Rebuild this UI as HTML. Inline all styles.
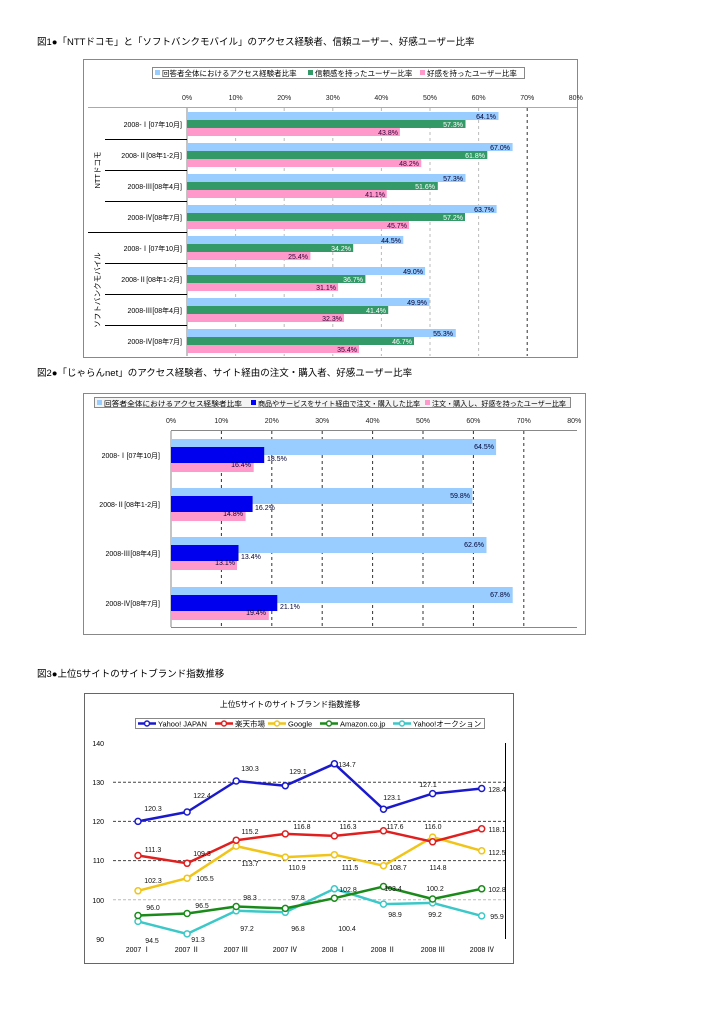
<!DOCTYPE html>
<html><head><meta charset="utf-8"><style>
body{margin:0;background:#fff}
svg{display:block;font-family:"Liberation Sans","Noto Sans CJK JP",sans-serif}
</style></head><body>
<svg width="724" height="1024" viewBox="0 0 724 1024" xmlns="http://www.w3.org/2000/svg">
<g font-size="9.5" fill="#000">
<text x="37" y="45">図1●「NTTドコモ」と「ソフトバンクモバイル」のアクセス経験者、信頼ユーザー、好感ユーザー比率</text>
<text x="37" y="376">図2●「じゃらんnet」のアクセス経験者、サイト経由の注文・購入者、好感ユーザー比率</text>
<text x="37" y="677">図3●上位5サイトのサイトブランド指数推移</text>
</g>

<!-- Chart 1 -->
<rect x="83.5" y="59.5" width="494" height="298" fill="#fff" stroke="#888"/>
<rect x="152.5" y="67.5" width="372" height="11" fill="#fff" stroke="#888"/>
<g font-size="7.5">
<rect x="155" y="70" width="5" height="5" fill="#99ccff"/><text x="162" y="76">回答者全体におけるアクセス経験者比率</text>
<rect x="308" y="70" width="5" height="5" fill="#339966"/><text x="315" y="76">信頼感を持ったユーザー比率</text>
<rect x="420" y="70" width="5" height="5" fill="#ff99cc"/><text x="427" y="76">好感を持ったユーザー比率</text>
</g>
<g font-size="7" text-anchor="middle" fill="#222">
<text x="187" y="100">0%</text><text x="235.6" y="100">10%</text><text x="284.2" y="100">20%</text><text x="332.8" y="100">30%</text><text x="381.4" y="100">40%</text><text x="430" y="100">50%</text><text x="478.6" y="100">60%</text><text x="527.2" y="100">70%</text><text x="575.8" y="100">80%</text>
</g>
<line x1="88" y1="107.5" x2="577" y2="107.5" stroke="#aaa"/>
<g stroke="#bbb" stroke-dasharray="3,3">
<line x1="235.6" y1="108" x2="235.6" y2="356"/><line x1="284.2" y1="108" x2="284.2" y2="356"/><line x1="332.8" y1="108" x2="332.8" y2="356"/><line x1="381.4" y1="108" x2="381.4" y2="356"/><line x1="430" y1="108" x2="430" y2="356"/><line x1="478.6" y1="108" x2="478.6" y2="356"/>
</g>
<line x1="527.2" y1="108" x2="527.2" y2="356" stroke="#333" stroke-dasharray="3,3"/>
<line x1="187" y1="108" x2="187" y2="356" stroke="#888"/>
<g>
<rect x="187" y="112" width="311.5" height="8" fill="#99ccff"/><rect x="187" y="120" width="278.5" height="8" fill="#339966"/><rect x="187" y="128" width="212.9" height="8" fill="#ff99cc"/>
<rect x="187" y="143" width="325.6" height="8" fill="#99ccff"/><rect x="187" y="151" width="300.3" height="8" fill="#339966"/><rect x="187" y="159" width="234.3" height="8" fill="#ff99cc"/>
<rect x="187" y="174" width="278.5" height="8" fill="#99ccff"/><rect x="187" y="182" width="250.8" height="8" fill="#339966"/><rect x="187" y="190" width="199.7" height="8" fill="#ff99cc"/>
<rect x="187" y="205" width="309.6" height="8" fill="#99ccff"/><rect x="187" y="213" width="278" height="8" fill="#339966"/><rect x="187" y="221" width="222.1" height="8" fill="#ff99cc"/>
<rect x="187" y="236" width="216.3" height="8" fill="#99ccff"/><rect x="187" y="244" width="166.2" height="8" fill="#339966"/><rect x="187" y="252" width="123.4" height="8" fill="#ff99cc"/>
<rect x="187" y="267" width="238.1" height="8" fill="#99ccff"/><rect x="187" y="275" width="178.4" height="8" fill="#339966"/><rect x="187" y="283" width="151.1" height="8" fill="#ff99cc"/>
<rect x="187" y="298" width="242.5" height="8" fill="#99ccff"/><rect x="187" y="306" width="201.2" height="8" fill="#339966"/><rect x="187" y="314" width="157" height="8" fill="#ff99cc"/>
<rect x="187" y="329" width="268.8" height="8" fill="#99ccff"/><rect x="187" y="337" width="227" height="8" fill="#339966"/><rect x="187" y="345" width="172" height="8" fill="#ff99cc"/>
</g>
<g font-size="7" text-anchor="end">
<g fill="#003">
<text x="496" y="119">64.1%</text><text x="510" y="150">67.0%</text><text x="463" y="181">57.3%</text><text x="494" y="212">63.7%</text>
<text x="401" y="243">44.5%</text><text x="423" y="274">49.0%</text><text x="427" y="305">49.9%</text><text x="453" y="336">55.3%</text>
</g>
<g fill="#fff">
<text x="463" y="127">57.3%</text><text x="485" y="158">61.8%</text><text x="435" y="189">51.6%</text><text x="463" y="220">57.2%</text>
<text x="351" y="251">34.2%</text><text x="363" y="282">36.7%</text><text x="386" y="313">41.4%</text><text x="412" y="344">46.7%</text>
</g>
<g fill="#303">
<text x="398" y="135">43.8%</text><text x="419" y="166">48.2%</text><text x="385" y="197">41.1%</text><text x="407" y="228">45.7%</text>
<text x="308" y="259">25.4%</text><text x="336" y="290">31.1%</text><text x="342" y="321">32.3%</text><text x="357" y="352">35.4%</text>
</g>
</g>
<g stroke="#000">
<line x1="105" y1="139.5" x2="187" y2="139.5"/><line x1="105" y1="170.5" x2="187" y2="170.5"/><line x1="105" y1="201.5" x2="187" y2="201.5"/>
<line x1="88" y1="232.5" x2="187" y2="232.5"/>
<line x1="105" y1="263.5" x2="187" y2="263.5"/><line x1="105" y1="294.5" x2="187" y2="294.5"/><line x1="105" y1="325.5" x2="187" y2="325.5"/>
</g>
<g font-size="7" text-anchor="end">
<text x="182" y="127">2008-Ⅰ[07年10月]</text><text x="182" y="158">2008-Ⅱ[08年1-2月]</text><text x="182" y="189">2008-Ⅲ[08年4月]</text><text x="182" y="220">2008-Ⅳ[08年7月]</text>
<text x="182" y="251">2008-Ⅰ[07年10月]</text><text x="182" y="282">2008-Ⅱ[08年1-2月]</text><text x="182" y="313">2008-Ⅲ[08年4月]</text><text x="182" y="344">2008-Ⅳ[08年7月]</text>
</g>
<g font-size="7.5" text-anchor="middle">
<text transform="translate(100,170) rotate(-90)">NTTドコモ</text>
<text transform="translate(100,290) rotate(-90)">ソフトバンクモバイル</text>
</g>

<!-- Chart 2 -->
<rect x="83.5" y="393.5" width="502" height="241" fill="#fff" stroke="#888"/>
<rect x="94.5" y="397.5" width="476" height="10" fill="#f4f4f4" stroke="#888"/>
<g font-size="7">
<rect x="97" y="400" width="5" height="5" fill="#99ccff"/><text x="104" y="406" textLength="138" lengthAdjust="spacingAndGlyphs">回答者全体におけるアクセス経験者比率</text>
<rect x="251" y="400" width="5" height="5" fill="#0000ff"/><text x="258" y="406" textLength="162" lengthAdjust="spacingAndGlyphs">商品やサービスをサイト経由で注文・購入した比率</text>
<rect x="425" y="400" width="5" height="5" fill="#ff99cc"/><text x="432" y="406" textLength="134" lengthAdjust="spacingAndGlyphs">注文・購入し、好感を持ったユーザー比率</text>
</g>
<g font-size="7" text-anchor="middle" fill="#222">
<text x="171" y="423">0%</text><text x="221.4" y="423">10%</text><text x="271.8" y="423">20%</text><text x="322.2" y="423">30%</text><text x="372.6" y="423">40%</text><text x="423" y="423">50%</text><text x="473.4" y="423">60%</text><text x="523.8" y="423">70%</text><text x="574.2" y="423">80%</text>
</g>
<line x1="171" y1="430.5" x2="577" y2="430.5" stroke="#888"/>
<g stroke="#333" stroke-dasharray="3,3">
<line x1="221.4" y1="431" x2="221.4" y2="627"/><line x1="271.8" y1="431" x2="271.8" y2="627"/><line x1="322.2" y1="431" x2="322.2" y2="627"/><line x1="372.6" y1="431" x2="372.6" y2="627"/><line x1="423" y1="431" x2="423" y2="627"/><line x1="473.4" y1="431" x2="473.4" y2="627"/><line x1="523.8" y1="431" x2="523.8" y2="627"/>
</g>
<line x1="171" y1="431" x2="171" y2="627" stroke="#888"/>
<line x1="171" y1="627.5" x2="577" y2="627.5" stroke="#888"/>
<g>
<rect x="171" y="439" width="325.1" height="16" fill="#99ccff"/><rect x="171" y="455" width="82.7" height="17" fill="#ff99cc"/><rect x="171" y="447" width="93.2" height="16" fill="#0000ee"/>
<rect x="171" y="488" width="301.4" height="16" fill="#99ccff"/><rect x="171" y="504" width="74.6" height="17" fill="#ff99cc"/><rect x="171" y="496" width="81.6" height="16" fill="#0000ee"/>
<rect x="171" y="537" width="315.5" height="16" fill="#99ccff"/><rect x="171" y="553" width="66" height="17" fill="#ff99cc"/><rect x="171" y="545" width="67.5" height="16" fill="#0000ee"/>
<rect x="171" y="587" width="341.7" height="16" fill="#99ccff"/><rect x="171" y="603" width="97.8" height="17" fill="#ff99cc"/><rect x="171" y="595" width="106.3" height="16" fill="#0000ee"/>
</g>
<g font-size="7" fill="#003">
<g text-anchor="end"><text x="494" y="449">64.5%</text><text x="470" y="498">59.8%</text><text x="484" y="547">62.6%</text><text x="510" y="597">67.8%</text>
<text x="251" y="467">16.4%</text><text x="243" y="516">14.8%</text><text x="235" y="565">13.1%</text><text x="266" y="615">19.4%</text></g>
<text x="267" y="461">18.5%</text><text x="255" y="510">16.2%</text><text x="241" y="559">13.4%</text><text x="280" y="609">21.1%</text>
</g>
<g font-size="7" text-anchor="end">
<text x="160" y="458">2008-Ⅰ[07年10月]</text><text x="160" y="507">2008-Ⅱ[08年1-2月]</text><text x="160" y="556">2008-Ⅲ[08年4月]</text><text x="160" y="606">2008-Ⅳ[08年7月]</text>
</g>

<!-- Chart 3 -->
<rect x="84.5" y="693.5" width="429" height="270" fill="#fff" stroke="#666"/>
<text x="290" y="707" font-size="8" text-anchor="middle">上位5サイトのサイトブランド指数推移</text>
<rect x="135.5" y="718.5" width="349" height="10" fill="#fff" stroke="#888"/>
<g font-size="7.5" stroke-width="2.5" fill="#fff">
<line x1="138" y1="723.5" x2="156" y2="723.5" stroke="#1a1acc"/><circle cx="147" cy="723.5" r="2.5" stroke="#1a1acc" stroke-width="1.5"/><text x="158" y="726.5" fill="#000" stroke="none">Yahoo! JAPAN</text>
<line x1="215" y1="723.5" x2="233" y2="723.5" stroke="#e01f1f"/><circle cx="224" cy="723.5" r="2.5" stroke="#e01f1f" stroke-width="1.5"/><text x="235" y="726.5" fill="#000" stroke="none">楽天市場</text>
<line x1="268" y1="723.5" x2="286" y2="723.5" stroke="#f0c418"/><circle cx="277" cy="723.5" r="2.5" stroke="#f0c418" stroke-width="1.5"/><text x="288" y="726.5" fill="#000" stroke="none">Google</text>
<line x1="320" y1="723.5" x2="338" y2="723.5" stroke="#1a8a1a"/><circle cx="329" cy="723.5" r="2.5" stroke="#1a8a1a" stroke-width="1.5"/><text x="340" y="726.5" fill="#000" stroke="none">Amazon.co.jp</text>
<line x1="393" y1="723.5" x2="411" y2="723.5" stroke="#3cc8c8"/><circle cx="402" cy="723.5" r="2.5" stroke="#3cc8c8" stroke-width="1.5"/><text x="413" y="726.5" fill="#000" stroke="none">Yahoo!オークション</text>
</g>
<g font-size="7" text-anchor="end">
<text x="104" y="746">140</text><text x="104" y="785">130</text><text x="104" y="824">120</text><text x="104" y="863">110</text><text x="104" y="903">100</text><text x="104" y="942">90</text>
</g>
<g stroke="#444" stroke-dasharray="3,2">
<line x1="113" y1="782.2" x2="505" y2="782.2"/><line x1="113" y1="821.4" x2="505" y2="821.4"/><line x1="113" y1="860.6" x2="505" y2="860.6"/>
</g>
<line x1="113" y1="899.8" x2="505" y2="899.8" stroke="#bbb" stroke-dasharray="3,2"/>
<line x1="505.5" y1="743" x2="505.5" y2="939" stroke="#000"/>
<g font-size="7" text-anchor="middle">
<text x="138" y="952">2007 Ⅰ</text><text x="187" y="952">2007 Ⅱ</text><text x="236" y="952">2007 Ⅲ</text><text x="285" y="952">2007 Ⅳ</text><text x="334" y="952">2008 Ⅰ</text><text x="383" y="952">2008 Ⅱ</text><text x="433" y="952">2008 Ⅲ</text><text x="482" y="952">2008 Ⅳ</text>
</g>
<g fill="none" stroke-width="2.5" stroke-linejoin="round">
<polyline stroke="#3cc8c8" points="138,921.4 187.1,933.9 236.2,910.8 285.3,912.3 334.4,888.8 383.5,904.1 432.6,902.9 481.7,915.9"/>
<polyline stroke="#1a8a1a" points="138,915.5 187.1,913.5 236.2,906.5 285.3,908.4 334.4,898.2 383.5,886.5 432.6,899 481.7,888.8"/>
<polyline stroke="#f0c418" points="138,890.8 187.1,878.2 236.2,846.1 285.3,857.1 334.4,854.7 383.5,865.7 432.6,837.1 481.7,850.8"/>
<polyline stroke="#e01f1f" points="138,855.5 187.1,863.3 236.2,840.2 285.3,833.9 334.4,835.9 383.5,830.8 432.6,841.8 481.7,828.8"/>
<polyline stroke="#1a1acc" points="138,821.4 187.1,812 236.2,781 285.3,785.7 334.4,763.8 383.5,809.2 432.6,793.6 481.7,788.5"/>
</g>
<g fill="#fff" stroke-width="1.5">
<g stroke="#3cc8c8"><circle cx="138" cy="921.4" r="3"/><circle cx="187.1" cy="933.9" r="3"/><circle cx="236.2" cy="910.8" r="3"/><circle cx="285.3" cy="912.3" r="3"/><circle cx="334.4" cy="888.8" r="3"/><circle cx="383.5" cy="904.1" r="3"/><circle cx="432.6" cy="902.9" r="3"/><circle cx="481.7" cy="915.9" r="3"/></g>
<g stroke="#1a8a1a"><circle cx="138" cy="915.5" r="3"/><circle cx="187.1" cy="913.5" r="3"/><circle cx="236.2" cy="906.5" r="3"/><circle cx="285.3" cy="908.4" r="3"/><circle cx="334.4" cy="898.2" r="3"/><circle cx="383.5" cy="886.5" r="3"/><circle cx="432.6" cy="899" r="3"/><circle cx="481.7" cy="888.8" r="3"/></g>
<g stroke="#f0c418"><circle cx="138" cy="890.8" r="3"/><circle cx="187.1" cy="878.2" r="3"/><circle cx="236.2" cy="846.1" r="3"/><circle cx="285.3" cy="857.1" r="3"/><circle cx="334.4" cy="854.7" r="3"/><circle cx="383.5" cy="865.7" r="3"/><circle cx="432.6" cy="837.1" r="3"/><circle cx="481.7" cy="850.8" r="3"/></g>
<g stroke="#e01f1f"><circle cx="138" cy="855.5" r="3"/><circle cx="187.1" cy="863.3" r="3"/><circle cx="236.2" cy="840.2" r="3"/><circle cx="285.3" cy="833.9" r="3"/><circle cx="334.4" cy="835.9" r="3"/><circle cx="383.5" cy="830.8" r="3"/><circle cx="432.6" cy="841.8" r="3"/><circle cx="481.7" cy="828.8" r="3"/></g>
<g stroke="#1a1acc"><circle cx="138" cy="821.4" r="3"/><circle cx="187.1" cy="812" r="3"/><circle cx="236.2" cy="781" r="3"/><circle cx="285.3" cy="785.7" r="3"/><circle cx="334.4" cy="763.8" r="3"/><circle cx="383.5" cy="809.2" r="3"/><circle cx="432.6" cy="793.6" r="3"/><circle cx="481.7" cy="788.5" r="3"/></g>
</g>
<g font-size="7" text-anchor="middle" fill="#111">
<text x="153" y="811">120.3</text><text x="202" y="798">122.4</text><text x="250" y="771">130.3</text><text x="298" y="774">129.1</text><text x="347" y="767">134.7</text><text x="392" y="800">123.1</text><text x="428" y="787">127.1</text><text x="497" y="792">128.4</text>
<text x="153" y="852">111.3</text><text x="202" y="856">109.3</text><text x="250" y="834">115.2</text><text x="302" y="829">116.8</text><text x="348" y="829">116.3</text><text x="395" y="829">117.6</text><text x="438" y="870">114.8</text><text x="497" y="832">118.1</text>
<text x="153" y="883">102.3</text><text x="205" y="881">105.5</text><text x="250" y="866">113.7</text><text x="297" y="870">110.9</text><text x="350" y="870">111.5</text><text x="398" y="870">108.7</text><text x="433" y="829">116.0</text><text x="497" y="855">112.5</text>
<text x="153" y="910">96.0</text><text x="202" y="908">96.5</text><text x="250" y="900">98.3</text><text x="298" y="900">97.8</text><text x="347" y="931">100.4</text><text x="393" y="891">103.4</text><text x="435" y="891">100.2</text><text x="497" y="892">102.8</text>
<text x="152" y="943">94.5</text><text x="198" y="942">91.3</text><text x="247" y="931">97.2</text><text x="298" y="931">96.8</text><text x="348" y="892">102.8</text><text x="395" y="917">98.9</text><text x="435" y="917">99.2</text><text x="497" y="919">95.9</text>
</g>
</svg>
</body></html>
